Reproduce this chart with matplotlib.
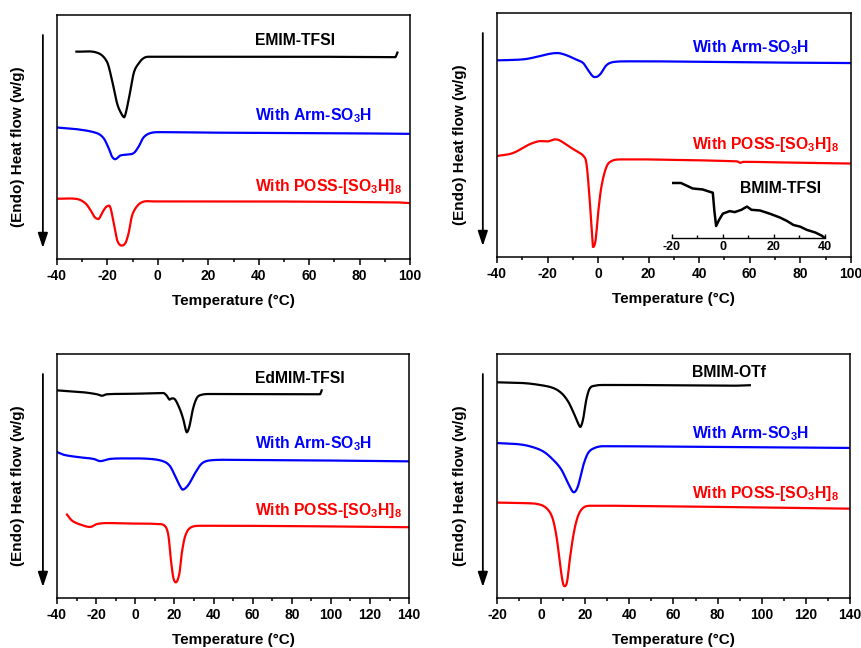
import matplotlib
matplotlib.use("Agg")
import matplotlib.pyplot as plt
import numpy as np

plt.rcParams['font.family'] = ['Liberation Sans', 'DejaVu Sans']
plt.rcParams['font.weight'] = 'bold'
plt.rcParams['mathtext.fontset'] = 'custom'
plt.rcParams['mathtext.rm'] = 'Liberation Sans:bold'
plt.rcParams['mathtext.bf'] = 'Liberation Sans:bold'
plt.rcParams['mathtext.default'] = 'bf'
plt.rcParams['axes.unicode_minus'] = False

# ---- panel (a): EMIM-TFSI, -40..100 C ----
emim_T = [-32.3, -24.2, -20.2, -18.2, -16.2, -14.6, -13.3, -11.6, -9.6, -7.6, -5.7, -3.7, 61.7, 94.1, 95.0]
emim_hf = [8.50, 8.46, 8.09, 7.34, 6.39, 5.98, 5.81, 6.52, 7.61, 8.02, 8.23, 8.29, 8.29, 8.27, 8.46]
emim_arm_T = [-40, -32.1, -24.2, -21.5, -19.5, -18.2, -16.9, -14.9, -12.3, -9.6, -7.6, -5.7, -3.0, 1.0, 20.1, 67.7, 100]
emim_arm_hf = [5.39, 5.32, 5.16, 4.95, 4.54, 4.20, 4.09, 4.24, 4.28, 4.34, 4.61, 4.98, 5.16, 5.20, 5.18, 5.16, 5.13]
emim_poss_T = [-40, -32.1, -28.8, -26.8, -25.1, -23.5, -21.8, -20.2, -18.9, -17.5, -16.2, -14.6, -12.9, -11.6,
               -10.3, -8.3, -5.7, -1.7, 40.6, 94.7, 100]
emim_poss_hf = [2.47, 2.46, 2.29, 2.02, 1.72, 1.64, 1.95, 2.16, 2.13, 1.47, 0.79, 0.55, 0.65, 1.06,
                1.75, 2.16, 2.35, 2.36, 2.36, 2.32, 2.29]

# ---- panel (b): BMIM-TFSI, -40..100 C ----
bmim_arm_T = [-40, -29.7, -24.4, -19.1, -15.8, -12.5, -8.6, -5.9, -3.9, -2.0, -0.6, 1.0, 3.3, 6.0, 12.6, 21.8, 56.2, 100]
bmim_arm_hf = [8.06, 8.10, 8.20, 8.33, 8.36, 8.27, 8.09, 7.95, 7.65, 7.40, 7.38, 7.51, 7.86, 7.99, 8.02, 8.02, 7.98, 7.95]
bmim_poss_T = [-40, -33.7, -27.1, -23.1, -19.8, -17.1, -15.2, -11.2, -7.9, -5.7, -4.6, -3.5, -2.6, -2.0, -1.0,
               0.0, 1.3, 3.3, 5.3, 8.6, 19.2, 55.0, 56.2, 57.5, 76.0, 100]
bmim_poss_hf = [4.14, 4.26, 4.62, 4.75, 4.74, 4.82, 4.78, 4.51, 4.30, 4.13, 3.83, 2.60, 1.23, 0.41, 0.68,
                1.78, 2.87, 3.69, 3.93, 4.00, 4.00, 3.92, 3.86, 3.90, 3.87, 3.83]
bmim_T = [-20, -16.4, -14.5, -11.8, -7.9, -5.2, -3.9, -3.3, -2.6, -1.5, 0.0, 2.7, 4.7, 7.3, 9.5, 11.3,
          14.6, 18.5, 22.5, 25.1, 27.8, 30.4, 33.0, 36.3, 38.9, 40]
bmim_hf = [17.0, 17.0, 16.3, 15.3, 15.0, 14.3, 14.0, 8.5, 3.7, 5.5, 7.5, 8.3, 8.0, 8.7, 9.7, 8.7,
           8.5, 7.5, 6.3, 5.3, 4.0, 3.5, 2.5, 1.7, 0.7, 0.0]

# ---- panel (c): EdMIM-TFSI, -40..140 C ----
edmim_T = [-40, -26.4, -19.6, -17.0, -14.5, -0.9, 14.4, 16.1, 17.5, 18.7, 20.4, 22.9, 24.6, 26.3, 27.7,
           29.4, 31.5, 34.0, 38.3, 94.4, 95.3]
edmim_hf = [8.51, 8.43, 8.35, 8.29, 8.35, 8.37, 8.40, 8.29, 8.13, 8.18, 8.13, 7.72, 7.31, 6.79, 7.04,
            7.72, 8.20, 8.33, 8.36, 8.35, 8.51]
edmim_arm_T = [-40, -36.6, -29.8, -21.3, -17.9, -12.8, -4.3, 7.6, 14.4, 17.8, 20.4, 22.9, 24.3, 27.2,
               30.6, 34.0, 38.3, 50.2, 104.6, 140]
edmim_arm_hf = [5.98, 5.87, 5.78, 5.70, 5.61, 5.70, 5.72, 5.70, 5.60, 5.40, 4.99, 4.58, 4.44, 4.64,
                5.12, 5.51, 5.64, 5.66, 5.63, 5.60]
edmim_poss_T = [-34.9, -32.3, -28.1, -23.0, -19.6, -14.5, -0.9, 11.0, 15.3, 17.0, 18.2, 19.5, 20.9, 22.6,
                23.8, 25.5, 28.0, 33.1, 48.5, 89.3, 140]
edmim_poss_hf = [3.42, 3.17, 3.01, 2.91, 3.03, 3.07, 3.05, 3.03, 2.94, 2.53, 1.57, 0.82, 0.64, 1.02,
                 1.84, 2.53, 2.87, 2.96, 2.96, 2.94, 2.90]

# ---- panel (d): BMIM-OTf, -20..140 C ----
otf_T = [-20, -8.2, -0.6, 5.4, 9.2, 12.2, 14.8, 16.7, 17.8, 19.0, 20.5, 22.0, 24.3, 28.1, 40.2, 87.1, 94.6]
otf_hf = [8.84, 8.81, 8.73, 8.61, 8.40, 8.06, 7.58, 7.17, 7.01, 7.31, 8.13, 8.58, 8.70, 8.73, 8.73, 8.70, 8.72]
otf_arm_T = [-20, -11.2, -5.2, 0.9, 5.4, 9.2, 12.2, 14.8, 16.7, 19.0, 21.3, 24.3, 28.1, 65.9, 109.7, 140]
otf_arm_hf = [6.35, 6.31, 6.22, 6.01, 5.67, 5.26, 4.71, 4.33, 4.58, 5.40, 5.94, 6.15, 6.22, 6.20, 6.17, 6.15]
otf_poss_T = [-20, -8.2, -0.6, 3.1, 5.4, 7.2, 8.7, 9.9, 10.7, 11.8, 13.0, 14.8, 16.7, 19.0, 22.0, 32.6, 91.6, 140]
otf_poss_hf = [3.91, 3.89, 3.83, 3.62, 3.21, 2.39, 1.30, 0.61, 0.48, 0.68, 1.57, 2.66, 3.35, 3.69, 3.78, 3.78, 3.72, 3.66]

ARM = 'With Arm-SO$_3$H'
POSS = 'With POSS-[SO$_3$H]$_8$'


def smooth(x, y):
    # cubic hermite through the read points, flat at local extrema
    x = np.asarray(x, float)
    y = np.asarray(y, float)
    xs = []
    ys = []
    for i in range(len(x) - 1):
        x0, x1 = x[i], x[i + 1]
        y0, y1 = y[i], y[i + 1]
        m0 = (y[i + 1] - y[i - 1]) / (x[i + 1] - x[i - 1]) if i > 0 else (y1 - y0) / (x1 - x0)
        m1 = (y[i + 2] - y[i]) / (x[i + 2] - x[i]) if i < len(x) - 2 else (y1 - y0) / (x1 - x0)
        d = (y1 - y0) / (x1 - x0)
        if d == 0 or m0 * d <= 0:
            m0 = 0.0 if i > 0 else m0
        if d == 0 or m1 * d <= 0:
            m1 = 0.0 if i < len(x) - 2 else m1
        t = np.linspace(0, 1, 12)
        h = x1 - x0
        h00 = 2 * t**3 - 3 * t**2 + 1
        h10 = t**3 - 2 * t**2 + t
        h01 = -2 * t**3 + 3 * t**2
        h11 = t**3 - t**2
        xs.append(x0 + t * h)
        ys.append(h00 * y0 + h10 * h * m0 + h01 * y1 + h11 * h * m1)
    return np.concatenate(xs), np.concatenate(ys)


def setup(ax, xmin, xmax, arrow_x, label_x):
    ax.set_xlim(xmin, xmax)
    ax.set_ylim(0, 10)
    ax.set_yticks([])
    ax.set_xticks(np.arange(xmin, xmax + 1, 20))
    ax.set_xticks(np.arange(xmin + 10, xmax, 20), minor=True)
    ax.tick_params(axis='x', which='major', direction='out', length=4, width=1.1, labelsize=10, pad=3)
    ax.tick_params(axis='x', which='minor', direction='out', length=2.5, width=1.1)
    for lbl in ax.get_xticklabels():
        lbl.set_fontweight('bold')
    for sp in ax.spines.values():
        sp.set_linewidth(1.1)
    ax.set_xlabel('Temperature (°C)', fontsize=11, fontweight='bold', labelpad=8)
    ax.set_ylabel('(Endo) Heat flow (w/g)', fontsize=11, fontweight='bold')
    ax.yaxis.set_label_coords(label_x, 0.46)
    ax.annotate('', xy=(arrow_x, 0.045), xytext=(arrow_x, 0.918), xycoords='axes fraction',
                textcoords='axes fraction', annotation_clip=False,
                arrowprops=dict(arrowstyle='-|>,head_width=0.3,head_length=0.9', color='black', lw=1.3,
                                shrinkA=0, shrinkB=0))


def curve(ax, x, y, color):
    xs, ys = smooth(x, y)
    ax.plot(xs, ys, color=color, lw=1.6)


def labels(ax, x, names, ys, colors):
    for name, y, c in zip(names, ys, colors):
        ax.text(x, y, name, color=c, fontsize=11.3, fontweight='bold', va='center')


fig = plt.figure(figsize=(8.61, 6.48), dpi=100)

ax1 = fig.add_axes([0.0662, 0.6003, 0.410, 0.3765])
ax2 = fig.add_axes([0.5772, 0.6034, 0.411, 0.3765])
ax3 = fig.add_axes([0.0662, 0.0772, 0.409, 0.3765])
ax4 = fig.add_axes([0.5772, 0.0772, 0.410, 0.3765])

# (a)
setup(ax1, -40, 100, -0.04, -0.092)
curve(ax1, emim_T, emim_hf, 'black')
curve(ax1, emim_arm_T, emim_arm_hf, 'blue')
curve(ax1, emim_poss_T, emim_poss_hf, 'red')
labels(ax1, 38.6, ['EMIM-TFSI', ARM, POSS], [8.95, 5.88, 2.97], ['black', 'blue', 'red'])

# (b)
setup(ax2, -40, 100, -0.04, -0.086)
curve(ax2, bmim_arm_T, bmim_arm_hf, 'blue')
curve(ax2, bmim_poss_T, bmim_poss_hf, 'red')
labels(ax2, 37.0, [ARM, POSS], [8.58, 4.62], ['blue', 'red'])
labels(ax2, 56.2, ['BMIM-TFSI'], [2.80], ['black'])
ins = ax2.inset_axes([0.494, 0.078, 0.432, 0.232])
ins.plot(bmim_T, bmim_hf, color='black', lw=1.8)
ins.set_xlim(-20, 40)
ins.set_ylim(0, 17.5)
ins.patch.set_alpha(0)
for s in ['left', 'right', 'top']:
    ins.spines[s].set_visible(False)
ins.spines['bottom'].set_linewidth(1.0)
ins.set_yticks([])
ins.set_xticks([-20, 0, 20, 40])
ins.set_xticks([-10, 10, 30], minor=True)
ins.tick_params(axis='x', which='major', direction='in', length=3, width=1.0, labelsize=9, pad=2)
ins.tick_params(axis='x', which='minor', direction='in', length=2, width=1.0)
for lbl in ins.get_xticklabels():
    lbl.set_fontweight('bold')

# (c)
setup(ax3, -40, 140, -0.04, -0.092)
curve(ax3, edmim_T, edmim_hf, 'black')
curve(ax3, edmim_arm_T, edmim_arm_hf, 'blue')
curve(ax3, edmim_poss_T, edmim_poss_hf, 'red')
labels(ax3, 61.2, ['EdMIM-TFSI', ARM, POSS], [8.98, 6.33, 3.59], ['black', 'blue', 'red'])

# (d)
setup(ax4, -20, 140, -0.04, -0.086)
curve(ax4, otf_T, otf_hf, 'black')
curve(ax4, otf_arm_T, otf_arm_hf, 'blue')
curve(ax4, otf_poss_T, otf_poss_hf, 'red')
labels(ax4, 68.2, ['BMIM-OTf', ARM, POSS], [9.26, 6.72, 4.30], ['black', 'blue', 'red'])

fig.savefig('out.png', dpi=100)
